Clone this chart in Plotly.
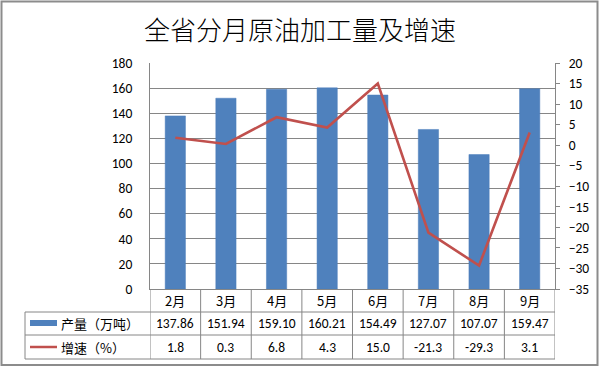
import plotly.graph_objects as go

categories = ["2月", "3月", "4月", "5月", "6月", "7月", "8月", "9月"]
output_values = [137.86, 151.94, 159.10, 160.21, 154.49, 127.07, 107.07, 159.47]
growth_values = [1.8, 0.3, 6.8, 4.3, 15.0, -21.3, -29.3, 3.1]
output_labels = ["137.86", "151.94", "159.10", "160.21", "154.49", "127.07", "107.07", "159.47"]
growth_labels = ["1.8", "0.3", "6.8", "4.3", "15.0", "-21.3", "-29.3", "3.1"]
series_names = ["产量（万吨）", "增速（%）"]
title_text = "全省分月原油加工量及增速"

FW, FH = 600, 367
L, R, T, B = 150, 555, 63, 289
W, H = R - L, B - T

def px(x):
    return (x - L) / W

def py(y):
    return (B - y) / H

BLUE = "#4F81BD"
RED = "#C0504D"
GRID = "#868686"
NUM_FONT = "Carlito, Calibri, Lato, sans-serif"
CJK_FONT = "Noto Sans CJK SC"

fig = go.Figure()
xidx = list(range(len(categories)))
fig.add_trace(go.Bar(x=xidx, y=output_values, name=series_names[0],
                     marker=dict(color=BLUE, line=dict(color="#4A7DBA", width=0.5)),
                     width=0.4, yaxis="y"))
fig.add_trace(go.Scatter(x=xidx, y=growth_values, name=series_names[1], mode="lines",
                         line=dict(color=RED, width=2.6), yaxis="y2"))

shapes = []
# table horizontal lines
for yy in (312, 335, 359):
    shapes.append(dict(type="line", xref="paper", yref="paper",
                       x0=px(25), x1=px(555), y0=py(yy), y1=py(yy),
                       line=dict(color=GRID, width=1)))
# left border of table rows
shapes.append(dict(type="line", xref="paper", yref="paper",
                   x0=px(25), x1=px(25), y0=py(312), y1=py(359),
                   line=dict(color=GRID, width=1)))
# category boundary verticals
for i in range(len(categories) + 1):
    shapes.append(dict(type="line", xref="x", yref="paper",
                       x0=i - 0.5, x1=i - 0.5, y0=0, y1=py(359),
                       line=dict(color=GRID, width=1)))
# legend keys
shapes.append(dict(type="rect", xref="paper", yref="paper",
                   x0=px(30), x1=px(57), y0=py(320), y1=py(326),
                   fillcolor=BLUE, line=dict(width=0)))
shapes.append(dict(type="line", xref="paper", yref="paper",
                   x0=px(30), x1=px(57), y0=py(347), y1=py(347),
                   line=dict(color=RED, width=2.5)))
# outer border
shapes.append(dict(type="rect", xref="paper", yref="paper",
                   x0=px(1.5), x1=px(597.5), y0=py(1.5), y1=py(365),
                   line=dict(color="#8C8C8C", width=2), fillcolor="rgba(0,0,0,0)"))

annotations = []
for i, c in enumerate(categories):
    annotations.append(dict(x=i, y=py(300.5), xref="x", yref="paper", text=c,
                            xanchor="center", yanchor="middle",
                            showarrow=False, font=dict(family=CJK_FONT, size=13, color="#000")))
    annotations.append(dict(x=i, y=py(323.5), xref="x", yref="paper", text=output_labels[i],
                            xanchor="center", yanchor="middle",
                            showarrow=False, font=dict(family=NUM_FONT, size=13.5, color="#000")))
    annotations.append(dict(x=i, y=py(347), xref="x", yref="paper", text=growth_labels[i],
                            xanchor="center", yanchor="middle",
                            showarrow=False, font=dict(family=NUM_FONT, size=13.5, color="#000")))
for name, yy in zip(series_names, (323.5, 347)):
    annotations.append(dict(x=px(59), y=py(yy), xref="paper", yref="paper", text=name,
                            xanchor="left", yanchor="middle", showarrow=False,
                            font=dict(family=CJK_FONT, size=13, color="#000")))
annotations.append(dict(x=0.5 * (px(0) + px(600)), y=py(28), xref="paper", yref="paper",
                        text=title_text, showarrow=False, xanchor="center", yanchor="middle",
                        font=dict(family=CJK_FONT, size=26, color="#000", weight=300)))

fig.update_layout(
    width=FW, height=FH,
    margin=dict(l=L, r=FW - R, t=T, b=FH - B, pad=0),
    paper_bgcolor="white", plot_bgcolor="white",
    showlegend=False,
    bargap=0.6,
    xaxis=dict(range=[-0.5, len(categories) - 0.5], showticklabels=False, ticks="",
               showgrid=False, zeroline=False, showline=True, linecolor=GRID, linewidth=1,
               mirror=False, fixedrange=True),
    yaxis=dict(range=[0, 180], dtick=20, tick0=0, showgrid=True, gridcolor=GRID, gridwidth=1,
               zeroline=False, showline=True, linecolor=GRID, linewidth=1, ticks="",
               ticklabelstandoff=14,
               tickfont=dict(family=NUM_FONT, size=13.5, color="#000")),
    yaxis2=dict(range=[-35, 20], dtick=5, tick0=-35, overlaying="y", side="right",
                showgrid=False, zeroline=False, showline=True, linecolor=GRID, linewidth=1,
                ticks="outside", ticklen=4, tickcolor=GRID, ticklabelstandoff=6,
                tickfont=dict(family=NUM_FONT, size=13.5, color="#000")),
    shapes=shapes,
    annotations=annotations,
)

fig.write_html("out.html", config={"displayModeBar": False},
               post_script="document.body.style.margin='0';document.body.style.overflow='hidden';")
